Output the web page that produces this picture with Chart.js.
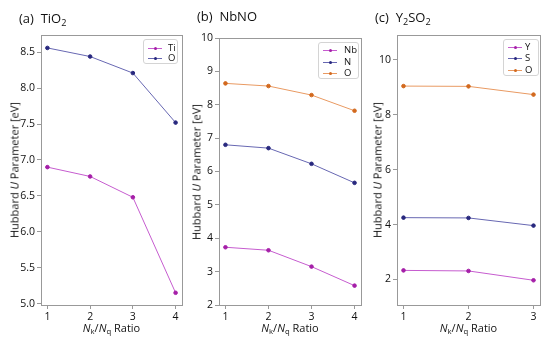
<!DOCTYPE html>
<html>
<head>
<meta charset="utf-8">
<script src="https://cdn.jsdelivr.net/npm/chart.js"></script>
<style>
  body { margin: 0; background: #fff; }
  #wrap { position: relative; width: 550px; height: 339px; overflow: hidden; font-family: "Open Sans", sans-serif; color: #111; }
  canvas { position: absolute; }
  .ptitle { position: absolute; font-size: 13px; white-space: nowrap; line-height: 1; }
  .ptitle sub, .xt sub { font-size: 70%; vertical-align: -0.3em; line-height: 0; }
  .yt { position: absolute; font-size: 11px; white-space: nowrap; transform: translate(-50%, -50%) rotate(-90deg); line-height: 1; }
  .xt { position: absolute; font-size: 11px; white-space: nowrap; transform: translate(-50%, -50%); line-height: 1; }
  .legend { position: absolute; border: 1px solid #d4d4d4; border-radius: 3px; background: rgba(255,255,255,0.8); font-size: 9.5px; }
  .legend .row { position: absolute; left: 0; height: 10px; line-height: 10px; white-space: nowrap; }
  .legend .ln { position: absolute; top: 5px; height: 1px; width: 14px; }
  .legend .dot { position: absolute; top: -1px; left: 6px; width: 3px; height: 3px; border-radius: 50%; }
  .legend .lb { position: absolute; top: 0; }
</style>
</head>
<body>
<div id="wrap"></div>
<script>
// N_k / N_q ratios
const ratios = [1, 2, 3, 4];
const ratiosY2SO2 = [1, 2, 3];

// (a) TiO2
const tiO2Ti = [6.90, 6.77, 6.48, 5.15];
const tiO2O = [8.56, 8.44, 8.21, 7.52];
const tiO2Ticks = [5.0, 5.5, 6.0, 6.5, 7.0, 7.5, 8.0, 8.5];

// (b) NbNO
const nbnoNb = [3.73, 3.64, 3.15, 2.58];
const nbnoN = [6.80, 6.70, 6.23, 5.66];
const nbnoO = [8.64, 8.56, 8.29, 7.82];
const nbnoTicks = [2, 3, 4, 5, 6, 7, 8, 9, 10];

// (c) Y2SO2
const y2so2Y = [2.33, 2.31, 1.97];
const y2so2S = [4.25, 4.24, 3.96];
const y2so2O = [9.04, 9.03, 8.73];
const y2so2Ticks = [2, 4, 6, 8, 10];

const magenta = { line: '#c65ccf', point: '#a51fa8' };
const navy = { line: '#6767b2', point: '#28287e' };
const orange = { line: '#e99a62', point: '#d2691e' };

const wrap = document.getElementById('wrap');
const AX = '#999';
const YW = 45, XH = 25, PAD = 10;

function series(label, xs, ys, c) {
  return {
    label,
    data: xs.map((x, i) => ({ x, y: ys[i] })),
    borderColor: c.line,
    backgroundColor: c.point,
    pointBackgroundColor: c.point,
    pointBorderColor: c.point,
    pointRadius: 1.8,
    borderWidth: 1,
    tension: 0
  };
}

// draw top + right spines
const frame = {
  id: 'frame',
  afterDraw(chart) {
    const { ctx, chartArea: a } = chart;
    ctx.save();
    ctx.strokeStyle = AX;
    ctx.lineWidth = 1;
    ctx.strokeRect(Math.round(a.left) + 0.5, Math.round(a.top) + 0.5, Math.round(a.right - a.left), Math.round(a.bottom - a.top));
    ctx.restore();
  }
};

function panel(opt) {
  const { L, T, R, B } = opt.box;
  const cv = document.createElement('canvas');
  const w = R - L + YW + PAD, h = B - T + PAD + XH;
  cv.width = w; cv.height = h;
  cv.style.left = (L - YW) + 'px';
  cv.style.top = (T - PAD) + 'px';
  cv.style.width = w + 'px';
  cv.style.height = h + 'px';
  wrap.appendChild(cv);

  new Chart(cv.getContext('2d'), {
    type: 'line',
    data: { datasets: opt.datasets },
    options: {
      responsive: false,
      animation: false,
      events: [],
      layout: { padding: { top: PAD, right: PAD, left: 0, bottom: 0 } },
      plugins: { legend: { display: false }, tooltip: { enabled: false } },
      scales: {
        x: {
          type: 'linear',
          min: opt.xMin, max: opt.xMax,
          afterBuildTicks: s => { s.ticks = opt.xTicks.map(v => ({ value: v })); },
          afterFit: s => { s.height = XH; },
          grid: { drawOnChartArea: false, color: AX, tickLength: 4 },
          border: { color: AX },
          ticks: { color: '#111', padding: 2, font: { family: 'Open Sans', size: 10.5 }, callback: v => v }
        },
        y: {
          min: opt.yMin, max: opt.yMax,
          afterBuildTicks: s => { s.ticks = opt.yTicks.map(v => ({ value: v })); },
          afterFit: s => { s.width = YW; },
          grid: { drawOnChartArea: false, color: AX, tickLength: 4 },
          border: { color: AX },
          ticks: { color: '#111', padding: 2, font: { family: 'Open Sans', size: 10.5 }, callback: opt.fmt }
        }
      }
    },
    plugins: [frame]
  });

  // panel title
  const t = document.createElement('div');
  t.className = 'ptitle';
  t.style.left = opt.title.x + 'px';
  t.style.top = opt.title.y + 'px';
  t.innerHTML = opt.title.html;
  wrap.appendChild(t);

  // axis titles
  const yt = document.createElement('div');
  yt.className = 'yt';
  yt.style.left = opt.ytX + 'px';
  yt.style.top = ((T + B) / 2) + 'px';
  yt.innerHTML = 'Hubbard <i>U</i> Parameter [eV]';
  wrap.appendChild(yt);

  const xt = document.createElement('div');
  xt.className = 'xt';
  xt.style.left = ((L + R) / 2) + 'px';
  xt.style.top = '327px';
  xt.innerHTML = '<i>N</i><sub>k</sub>/<i>N</i><sub>q</sub> Ratio';
  wrap.appendChild(xt);

  // legend
  const lg = opt.legend;
  const box = document.createElement('div');
  box.className = 'legend';
  box.style.left = lg.x + 'px';
  box.style.top = lg.y + 'px';
  box.style.width = lg.w + 'px';
  box.style.height = lg.h + 'px';
  opt.datasets.forEach((d, i) => {
    const row = document.createElement('div');
    row.className = 'row';
    row.style.top = (lg.row0 + i * lg.dy) + 'px';
    row.innerHTML = '<span class="ln" style="left:4px;background:' + d.borderColor + '"><span class="dot" style="background:' + d.pointBackgroundColor + '"></span></span>' +
      '<span class="lb" style="left:' + lg.tx + 'px">' + d.label + '</span>';
    box.appendChild(row);
  });
  wrap.appendChild(box);
}

panel({
  box: { L: 41, T: 35, R: 182, B: 305 },
  xMin: 0.85, xMax: 4.15, xTicks: ratios,
  yMin: 4.98, yMax: 8.74, yTicks: tiO2Ticks, fmt: v => Number(v).toFixed(1),
  datasets: [series('Ti', ratios, tiO2Ti, magenta), series('O', ratios, tiO2O, navy)],
  title: { x: 19, y: 12, html: '(a)&nbsp;&nbsp;TiO<sub>2</sub>' },
  ytX: 14,
  legend: { x: 143, y: 39, w: 33, h: 23, row0: 3, dy: 10, tx: 24 }
});

panel({
  box: { L: 219, T: 38, R: 361, B: 305 },
  xMin: 0.85, xMax: 4.15, xTicks: ratios,
  yMin: 2, yMax: 10, yTicks: nbnoTicks, fmt: v => v,
  datasets: [series('Nb', ratios, nbnoNb, magenta), series('N', ratios, nbnoN, navy), series('O', ratios, nbnoO, orange)],
  title: { x: 197, y: 10, html: '(b)&nbsp;&nbsp;NbNO' },
  ytX: 196,
  legend: { x: 318, y: 42, w: 39, h: 35, row0: 2, dy: 11.5, tx: 25 }
});

panel({
  box: { L: 397, T: 35, R: 540, B: 305 },
  xMin: 0.9, xMax: 3.1, xTicks: ratiosY2SO2,
  yMin: 1.07, yMax: 10.9, yTicks: y2so2Ticks, fmt: v => v,
  datasets: [series('Y', ratiosY2SO2, y2so2Y, magenta), series('S', ratiosY2SO2, y2so2S, navy), series('O', ratiosY2SO2, y2so2O, orange)],
  title: { x: 375, y: 11, html: '(c)&nbsp;&nbsp;Y<sub>2</sub>SO<sub>2</sub>' },
  ytX: 377,
  legend: { x: 503, y: 39, w: 34, h: 35, row0: 2, dy: 11.3, tx: 21 }
});
</script>
</body>
</html>
